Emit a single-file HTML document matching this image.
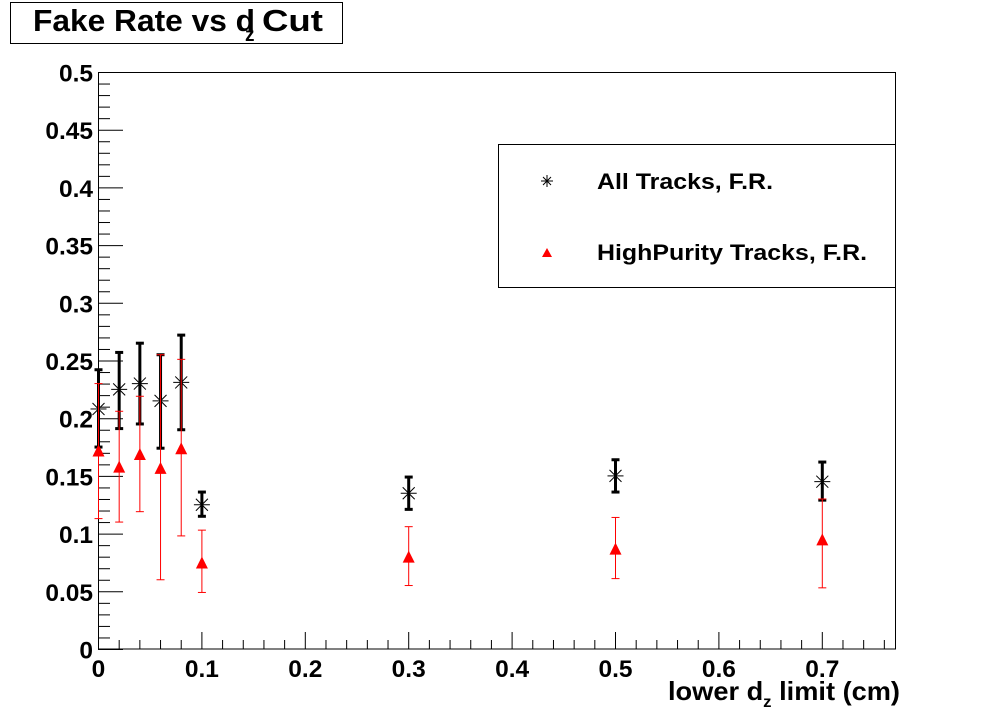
<!DOCTYPE html>
<html><head><meta charset="utf-8"><style>
html,body{margin:0;padding:0;background:#fff;}
svg{display:block;font-family:"Liberation Sans",Arial,sans-serif;font-weight:bold;}
</style></head><body>
<svg id="s" width="996" height="722" viewBox="0 0 996 722" xmlns="http://www.w3.org/2000/svg">
<rect x="0" y="0" width="996" height="722" fill="#fff"/>
<rect x="10.5" y="2.5" width="332" height="41" fill="#fff" stroke="#000" stroke-width="1"/>
<text x="33" y="31" font-size="31" textLength="222" lengthAdjust="spacingAndGlyphs">Fake Rate vs d</text>
<text x="245" y="41" font-size="19">z</text>
<text x="262" y="31" font-size="31" textLength="61" lengthAdjust="spacingAndGlyphs">Cut</text>
<rect x="98.5" y="72.5" width="797" height="576.5" fill="none" stroke="#000" stroke-width="1"/>
<g id="ax" stroke="#000" stroke-width="1"></g>
<g id="lab" font-size="24.5" text-anchor="end"></g>
<text x="668" y="700" font-size="26" textLength="232" lengthAdjust="spacingAndGlyphs">lower d<tspan font-size="16" dy="7">z</tspan><tspan dy="-7"> limit (cm)</tspan></text>
<rect x="498.5" y="144.5" width="397" height="143" fill="#fff" stroke="#000" stroke-width="1"/>
<g stroke="#000" stroke-width="1"><line x1="541" y1="181" x2="553" y2="181"/><line x1="547" y1="175" x2="547" y2="187"/><line x1="543" y1="177" x2="551" y2="185"/><line x1="543" y1="185" x2="551" y2="177"/></g>
<text x="597" y="189" font-size="22" textLength="176" lengthAdjust="spacingAndGlyphs">All Tracks, F.R.</text>
<polygon points="542,257 552,257 547,248" fill="#f00"/>
<text x="597" y="260" font-size="22" textLength="270" lengthAdjust="spacingAndGlyphs">HighPurity Tracks, F.R.</text>
<g id="d"></g>
</svg>
<script>
var X=function(v){return 98+v*1034;},Y=function(v){return 649-v*1154;};
var ax=document.getElementById('ax'),lab=document.getElementById('lab'),d=document.getElementById('d');
var h='',l='';
for(var i=0;i<=50;i++){var y=Y(i*0.01)+0.5;var len=(i%5==0)?25:12;h+='<line x1="98" y1="'+y+'" x2="'+(98+len)+'" y2="'+y+'"/>';
 if(i%5==0){var t=(i/100).toString();l+='<text x="93" y="'+(y+9)+'">'+t+'</text>';}}
for(var i=0;i<=38;i++){var x=X(i*0.02)+0.5;var len=(i%5==0)?17:9;h+='<line x1="'+x+'" y1="649" x2="'+x+'" y2="'+(649-len)+'"/>';
 if(i%5==0){var t=(i/50).toString();l+='<text text-anchor="middle" x="'+x+'" y="677">'+t+'</text>';}}
ax.innerHTML=h;lab.innerHTML=l;
var B=[[0,.208,.242,.175],[.02,.225,.257,.191],[.04,.23,.265,.195],[.06,.215,.255,.174],[.08,.231,.272,.19],[.1,.125,.136,.115],[.3,.135,.149,.121],[.5,.15,.164,.136],[.7,.145,.162,.129]];
var R=[[0,.172,.230,.113],[.02,.158,.206,.110],[.04,.169,.219,.119],[.06,.157,.255,.060],[.08,.174,.251,.098],[.1,.075,.103,.049],[.3,.08,.106,.055],[.5,.087,.114,.061],[.7,.095,.13,.053]];
var s='';
B.forEach(function(p){var x=X(p[0])+0.5,y=Y(p[1]),t=Y(p[2]),b=Y(p[3]);
 s+='<g stroke="#000"><line x1="'+x+'" y1="'+t+'" x2="'+x+'" y2="'+b+'" stroke-width="3"/><line x1="'+(x-4)+'" y1="'+t+'" x2="'+(x+4)+'" y2="'+t+'" stroke-width="3"/><line x1="'+(x-4)+'" y1="'+b+'" x2="'+(x+4)+'" y2="'+b+'" stroke-width="3"/>';
 s+='<line x1="'+(x-8)+'" y1="'+y+'" x2="'+(x+8)+'" y2="'+y+'"/><line x1="'+(x-6)+'" y1="'+(y-6)+'" x2="'+(x+6)+'" y2="'+(y+6)+'"/><line x1="'+(x-6)+'" y1="'+(y+6)+'" x2="'+(x+6)+'" y2="'+(y-6)+'"/></g>';});
R.forEach(function(p){var x=X(p[0])+0.5,y=Y(p[1]),t=Y(p[2]),b=Y(p[3]);
 s+='<g stroke="#f00" stroke-width="1"><line x1="'+x+'" y1="'+t+'" x2="'+x+'" y2="'+b+'"/><line x1="'+(x-4)+'" y1="'+t+'" x2="'+(x+4)+'" y2="'+t+'"/><line x1="'+(x-4)+'" y1="'+b+'" x2="'+(x+4)+'" y2="'+b+'"/></g>';
 s+='<polygon fill="#f00" points="'+(x-6)+','+(y+6)+' '+(x+6)+','+(y+6)+' '+x+','+(y-6)+'"/>';});
d.innerHTML=s;
</script>
</body></html>
